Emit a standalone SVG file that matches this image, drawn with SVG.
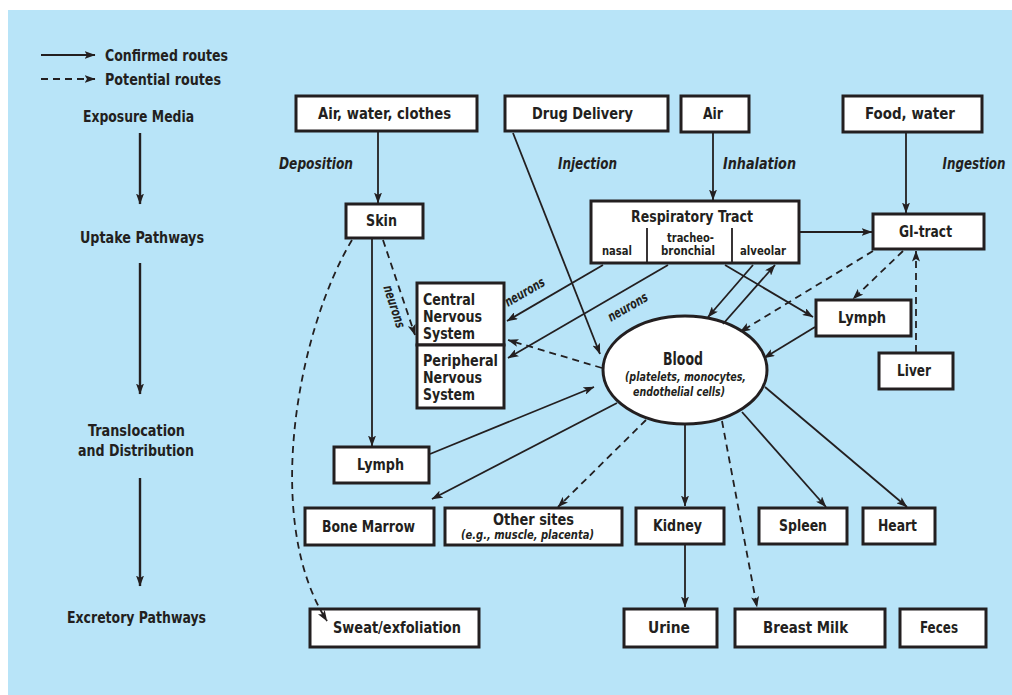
<svg xmlns="http://www.w3.org/2000/svg" width="1012" height="695" viewBox="0 0 1012 695">
<defs>
<marker id="ah" viewBox="0 0 11 8" markerWidth="11" markerHeight="8" refX="10.5" refY="4" orient="auto" markerUnits="userSpaceOnUse">
<path d="M0,0 L11,4 L0,8 L2.5,4 z" fill="#231f20"/>
</marker>
<style>
.bx{fill:#fff;stroke:#231f20;stroke-width:3}
.t{font-family:"Liberation Sans Narrow","DejaVu Sans Condensed","Roboto Condensed",sans-serif;font-weight:bold;fill:#231f20;font-size:16.5px;text-anchor:middle}
.l{text-anchor:start}
.i{font-style:italic}
.s{font-size:12.5px}
.c{fill:none;stroke:#231f20;stroke-width:1.8;marker-end:url(#ah)}
.d{stroke-dasharray:7 5}
.n{fill:none;stroke:#231f20;stroke-width:1.8}
.st{stroke-width:2.4}
</style>
</defs>
<rect x="8" y="10" width="1004" height="685" fill="#b8e4f8"/>

<g id="legend">
<line class="c" x1="41" y1="55" x2="95" y2="55"/>
<line class="c d" x1="41" y1="79" x2="95" y2="79"/>
<text class="t l" x="105" y="61" textLength="123" lengthAdjust="spacingAndGlyphs">Confirmed routes</text>
<text class="t l" x="105" y="85" textLength="116" lengthAdjust="spacingAndGlyphs">Potential routes</text>
</g>

<g id="stages">
<text class="t" x="138.5" y="122" textLength="111" lengthAdjust="spacingAndGlyphs">Exposure Media</text>
<text class="t" x="142" y="243" textLength="124" lengthAdjust="spacingAndGlyphs">Uptake Pathways</text>
<text class="t" x="136.5" y="436" textLength="97" lengthAdjust="spacingAndGlyphs">Translocation</text>
<text class="t" x="136" y="456" textLength="116" lengthAdjust="spacingAndGlyphs">and Distribution</text>
<text class="t" x="136.5" y="623" textLength="139" lengthAdjust="spacingAndGlyphs">Excretory Pathways</text>
<line class="c st" x1="140" y1="133" x2="140" y2="204"/>
<line class="c st" x1="140" y1="263" x2="140" y2="394"/>
<line class="c st" x1="140" y1="478" x2="140" y2="586"/>
</g>

<g id="route-labels">
<text class="t i" x="316" y="169" textLength="74" lengthAdjust="spacingAndGlyphs">Deposition</text>
<text class="t i" x="587.5" y="169" textLength="59" lengthAdjust="spacingAndGlyphs">Injection</text>
<text class="t i" x="759.5" y="169" textLength="73" lengthAdjust="spacingAndGlyphs">Inhalation</text>
<text class="t i" x="974" y="169" textLength="63" lengthAdjust="spacingAndGlyphs">Ingestion</text>
</g>

<g id="air-water-clothes"><rect class="bx" x="296" y="96" width="181" height="35"/><text class="t" x="384.5" y="119" textLength="133" lengthAdjust="spacingAndGlyphs">Air, water, clothes</text></g>
<g id="drug-delivery"><rect class="bx" x="505" y="96" width="163" height="35"/><text class="t" x="582.5" y="119" textLength="101" lengthAdjust="spacingAndGlyphs">Drug  Delivery</text></g>
<g id="air"><rect class="bx" x="681" y="96" width="68" height="36"/><text class="t" x="713" y="119" textLength="20" lengthAdjust="spacingAndGlyphs">Air</text></g>
<g id="food-water"><rect class="bx" x="843" y="96" width="139" height="36"/><text class="t" x="910" y="119" textLength="90" lengthAdjust="spacingAndGlyphs">Food,  water</text></g>
<g id="skin"><rect class="bx" x="346" y="204" width="77" height="34"/><text class="t" x="381.5" y="226" textLength="31" lengthAdjust="spacingAndGlyphs">Skin</text></g>
<g id="respiratory-tract">
<rect class="bx" x="591" y="201" width="208" height="62"/>
<line class="n" x1="647" y1="228" x2="647" y2="263"/>
<line class="n" x1="732" y1="228" x2="732" y2="263"/>
<text class="t" x="692" y="222" textLength="122" lengthAdjust="spacingAndGlyphs">Respiratory Tract</text>
<text class="t s" x="617" y="255" textLength="30" lengthAdjust="spacingAndGlyphs">nasal</text>
<text class="t s" x="690.5" y="242" textLength="47" lengthAdjust="spacingAndGlyphs">tracheo-</text>
<text class="t s" x="688" y="255" textLength="54" lengthAdjust="spacingAndGlyphs">bronchial</text>
<text class="t s" x="763" y="255" textLength="46" lengthAdjust="spacingAndGlyphs">alveolar</text>
</g>
<g id="gi-tract"><rect class="bx" x="873" y="214" width="111" height="35"/><text class="t" x="925.5" y="237" textLength="53" lengthAdjust="spacingAndGlyphs">GI-tract</text></g>
<g id="lymph-right"><rect class="bx" x="816" y="300" width="95" height="36"/><text class="t" x="862" y="323" textLength="48" lengthAdjust="spacingAndGlyphs">Lymph</text></g>
<g id="liver"><rect class="bx" x="879" y="353" width="74" height="36"/><text class="t" x="914" y="376" textLength="34" lengthAdjust="spacingAndGlyphs">Liver</text></g>
<g id="cns"><rect class="bx" x="417" y="283" width="87" height="62"/><text class="t l" x="423" y="305" textLength="52" lengthAdjust="spacingAndGlyphs">Central</text><text class="t l" x="423" y="322" textLength="59" lengthAdjust="spacingAndGlyphs">Nervous</text><text class="t l" x="423" y="339" textLength="52" lengthAdjust="spacingAndGlyphs">System</text></g>
<g id="pns"><rect class="bx" x="417" y="345" width="87" height="63"/><text class="t l" x="423" y="366" textLength="75" lengthAdjust="spacingAndGlyphs">Peripheral</text><text class="t l" x="423" y="383" textLength="59" lengthAdjust="spacingAndGlyphs">Nervous</text><text class="t l" x="423" y="400" textLength="52" lengthAdjust="spacingAndGlyphs">System</text></g>
<g id="blood"><ellipse cx="685" cy="370" rx="82" ry="54" fill="#fff" stroke="#231f20" stroke-width="3"/><text class="t" x="683" y="365" style="font-size:18px" textLength="40" lengthAdjust="spacingAndGlyphs">Blood</text><text class="t i s" x="685.5" y="381" textLength="121" lengthAdjust="spacingAndGlyphs">(platelets, monocytes,</text><text class="t i s" x="679" y="396" textLength="92" lengthAdjust="spacingAndGlyphs">endothelial cells)</text></g>
<g id="lymph-left"><rect class="bx" x="334" y="447" width="95" height="36"/><text class="t" x="380.5" y="470" textLength="47" lengthAdjust="spacingAndGlyphs">Lymph</text></g>
<g id="bone-marrow"><rect class="bx" x="305" y="508" width="129" height="37"/><text class="t" x="368.5" y="532" textLength="93" lengthAdjust="spacingAndGlyphs">Bone Marrow</text></g>
<g id="other-sites"><rect class="bx" x="445" y="508" width="177" height="37"/><text class="t" x="533.5" y="525" textLength="81" lengthAdjust="spacingAndGlyphs">Other  sites</text><text class="t i s" x="527.5" y="539" textLength="133" lengthAdjust="spacingAndGlyphs">(e.g.,  muscle,  placenta)</text></g>
<g id="kidney"><rect class="bx" x="636" y="508" width="88" height="36"/><text class="t" x="677.5" y="531" textLength="49" lengthAdjust="spacingAndGlyphs">Kidney</text></g>
<g id="spleen"><rect class="bx" x="759" y="508" width="88" height="36"/><text class="t" x="803" y="531" textLength="48" lengthAdjust="spacingAndGlyphs">Spleen</text></g>
<g id="heart"><rect class="bx" x="863" y="508" width="72" height="36"/><text class="t" x="897.5" y="531" textLength="39" lengthAdjust="spacingAndGlyphs">Heart</text></g>
<g id="sweat"><rect class="bx" x="310" y="609" width="169" height="38"/><text class="t" x="397" y="633" textLength="128" lengthAdjust="spacingAndGlyphs">Sweat/exfoliation</text></g>
<g id="urine"><rect class="bx" x="624" y="609" width="93" height="38"/><text class="t" x="669" y="633" textLength="42" lengthAdjust="spacingAndGlyphs">Urine</text></g>
<g id="breast-milk"><rect class="bx" x="735" y="609" width="150" height="38"/><text class="t" x="805.5" y="633" textLength="85" lengthAdjust="spacingAndGlyphs">Breast Milk</text></g>
<g id="feces"><rect class="bx" x="900" y="609" width="86" height="38"/><text class="t" x="939" y="633" textLength="38" lengthAdjust="spacingAndGlyphs">Feces</text></g>

<g id="connectors">
<line class="c" x1="378" y1="132" x2="378" y2="203"/>
<line class="c" x1="513" y1="133" x2="600" y2="354"/>
<line class="c" x1="713" y1="133" x2="713" y2="200"/>
<line class="c" x1="906" y1="133" x2="906" y2="213"/>
<line class="c" x1="800" y1="232" x2="872" y2="232"/>
<line class="c" x1="603" y1="265" x2="507" y2="321"/>
<line class="c" x1="668" y1="265" x2="508" y2="358"/>
<line class="c d" x1="383" y1="240" x2="415" y2="335"/>
<line class="c d" x1="602" y1="368" x2="508" y2="340"/>
<line class="c" x1="372" y1="239" x2="372" y2="446"/>
<path class="c d" d="M352,240 C298,330 262,520 327,621"/>
<line class="c" x1="430" y1="454" x2="594" y2="387"/>
<line class="c" x1="617" y1="403" x2="432" y2="499"/>
<line class="c d" x1="646" y1="420" x2="558" y2="507"/>
<line class="c" x1="685" y1="425" x2="685" y2="506"/>
<line class="c d" x1="722" y1="421" x2="757" y2="607"/>
<line class="c" x1="742" y1="412" x2="826" y2="507"/>
<line class="c" x1="765" y1="387" x2="907" y2="507"/>
<line class="c" x1="685" y1="545" x2="685" y2="607"/>
<line class="c" x1="753" y1="265" x2="708" y2="317"/>
<line class="c" x1="723" y1="324" x2="775" y2="265"/>
<line class="c" x1="725" y1="265" x2="813" y2="317"/>
<line class="c d" x1="873" y1="251" x2="740" y2="332"/>
<line class="c d" x1="903" y1="251" x2="853" y2="299"/>
<line class="c d" x1="916" y1="352" x2="916" y2="251"/>
<line class="c" x1="815" y1="327" x2="764" y2="358"/>
<text class="t i" x="527" y="296" transform="rotate(-30 527 296)" style="font-size:13.5px" textLength="44" lengthAdjust="spacingAndGlyphs">neurons</text>
<text class="t i" x="630" y="311" transform="rotate(-30 630 311)" style="font-size:13.5px" textLength="44" lengthAdjust="spacingAndGlyphs">neurons</text>
<text class="t i" x="390" y="308" transform="rotate(72 390 308)" style="font-size:13.5px" textLength="44" lengthAdjust="spacingAndGlyphs">neurons</text>
</g>
</svg>
